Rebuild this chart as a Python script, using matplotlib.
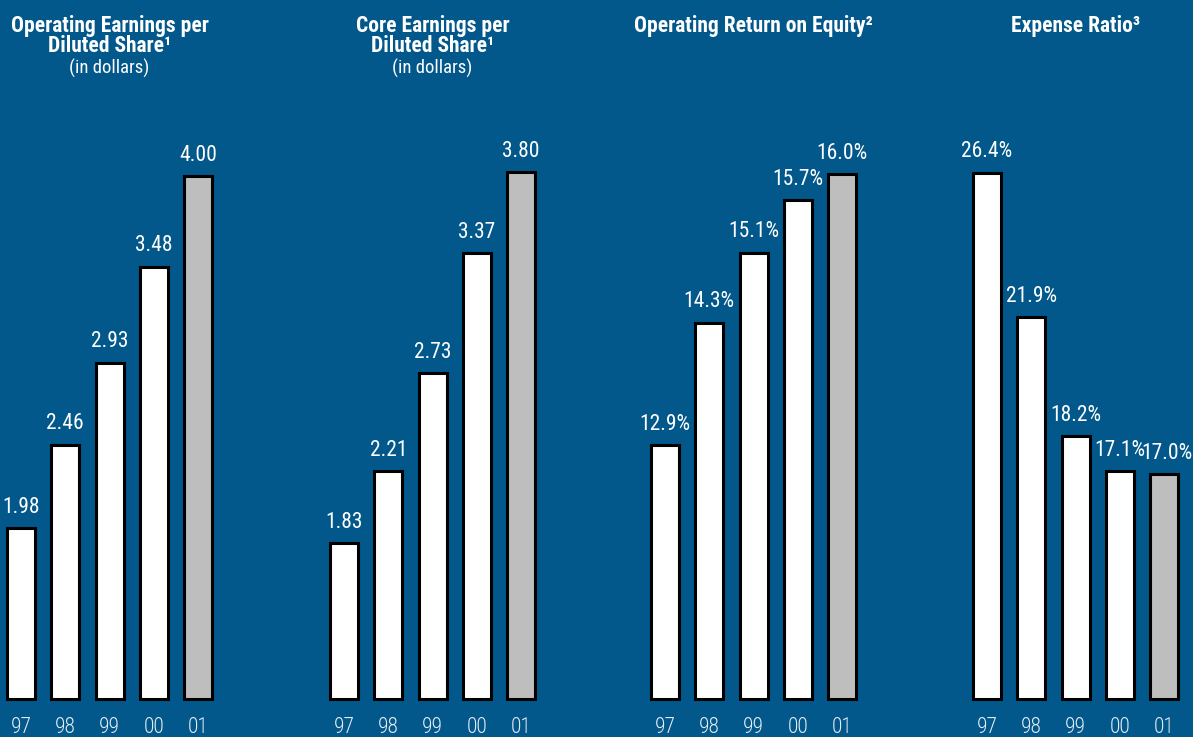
import matplotlib
matplotlib.use("Agg")
import matplotlib.pyplot as plt
from matplotlib import font_manager

years = ["97", "98", "99", "00", "01"]

op_eps = [1.98, 2.46, 2.93, 3.48, 4.00]
core_eps = [1.83, 2.21, 2.73, 3.37, 3.80]
op_roe = [12.9, 14.3, 15.1, 15.7, 16.0]
expense_ratio = [26.4, 21.9, 18.2, 17.1, 17.0]

eps_labels = ["1.98", "2.46", "2.93", "3.48", "4.00"]
core_labels = ["1.83", "2.21", "2.73", "3.37", "3.80"]
roe_labels = ["12.9%", "14.3%", "15.1%", "15.7%", "16.0%"]
expense_labels = ["26.4%", "21.9%", "18.2%", "17.1%", "17.0%"]

titles = [
    "Operating Earnings per\nDiluted Share\u00b9",
    "Core Earnings per\nDiluted Share\u00b9",
    "Operating Return on Equity\u00b2",
    "Expense Ratio\u00b3",
]
subtitles = ["(in dollars)", "(in dollars)", "", ""]

BG = "#02588a"
GRAY = "#bebebe"

names = {f.name for f in font_manager.fontManager.ttflist}
FONT = "DejaVu Sans"
for cand in ["Roboto Condensed", "Barlow Semi Condensed", "Barlow Condensed"]:
    if cand in names:
        FONT = cand
        break
plt.rcParams["font.family"] = [FONT, "DejaVu Sans"]

W, H = 1193, 737
fig = plt.figure(figsize=(W / 100, H / 100), dpi=100, facecolor=BG)

# panel left edges (px), value at the bar foot and px per unit
lefts = [7, 330, 651, 973]
bases = [1.0, 1.0, 10.0, 10.0]
scales = [174.3, 188.2, 87.5, 32.1]
series = [op_eps, core_eps, op_roe, expense_ratio]
labels = [eps_labels, core_labels, roe_labels, expense_labels]

step = 44.3
bar_w = 28
ax_w = 4 * step + bar_w
ax_h = 600
ax_bottom = H - 699

for i in range(4):
    ax = fig.add_axes([lefts[i] / W, ax_bottom / H, ax_w / W, ax_h / H])
    ax.set_facecolor("none")
    half = bar_w / step / 2
    ax.set_xlim(-half, 4 + half)
    ax.set_ylim(bases[i], bases[i] + ax_h / scales[i])
    colors = ["white"] * 4 + [GRAY]
    heights = [v - bases[i] for v in series[i]]
    ax.bar(range(5), heights, bottom=bases[i], width=bar_w / step,
           color=colors, edgecolor="black", linewidth=2.2, clip_on=False)
    for x, v, lab in zip(range(5), series[i], labels[i]):
        dx = 2 if (i == 3 and x == 4) else 0
        ax.annotate(lab, (x, v), xytext=(dx, 11), textcoords="offset points",
                    ha="center", va="baseline", color="white", fontsize=15.5)
    ax.set_xticks(range(5))
    ax.set_xticklabels(years, color="#e4ecf3", fontsize=15.5, fontweight="light")
    ax.tick_params(axis="x", length=0, pad=13)
    ax.set_yticks([])
    for s in ax.spines.values():
        s.set_visible(False)

    cx = (lefts[i] + ax_w / 2) / W
    if subtitles[i]:
        fig.text(cx, 1 - 36 / H, titles[i], ha="center", va="center", color="white",
                 fontsize=15.5, fontweight="bold", linespacing=0.92)
        fig.text(cx, 1 - 68 / H, subtitles[i], ha="center", va="center",
                 color="white", fontsize=13.5)
    else:
        fig.text(cx, 1 - 26 / H, titles[i], ha="center", va="center", color="white",
                 fontsize=15.5, fontweight="bold")

fig.savefig("out.png", dpi=100, facecolor=BG)
